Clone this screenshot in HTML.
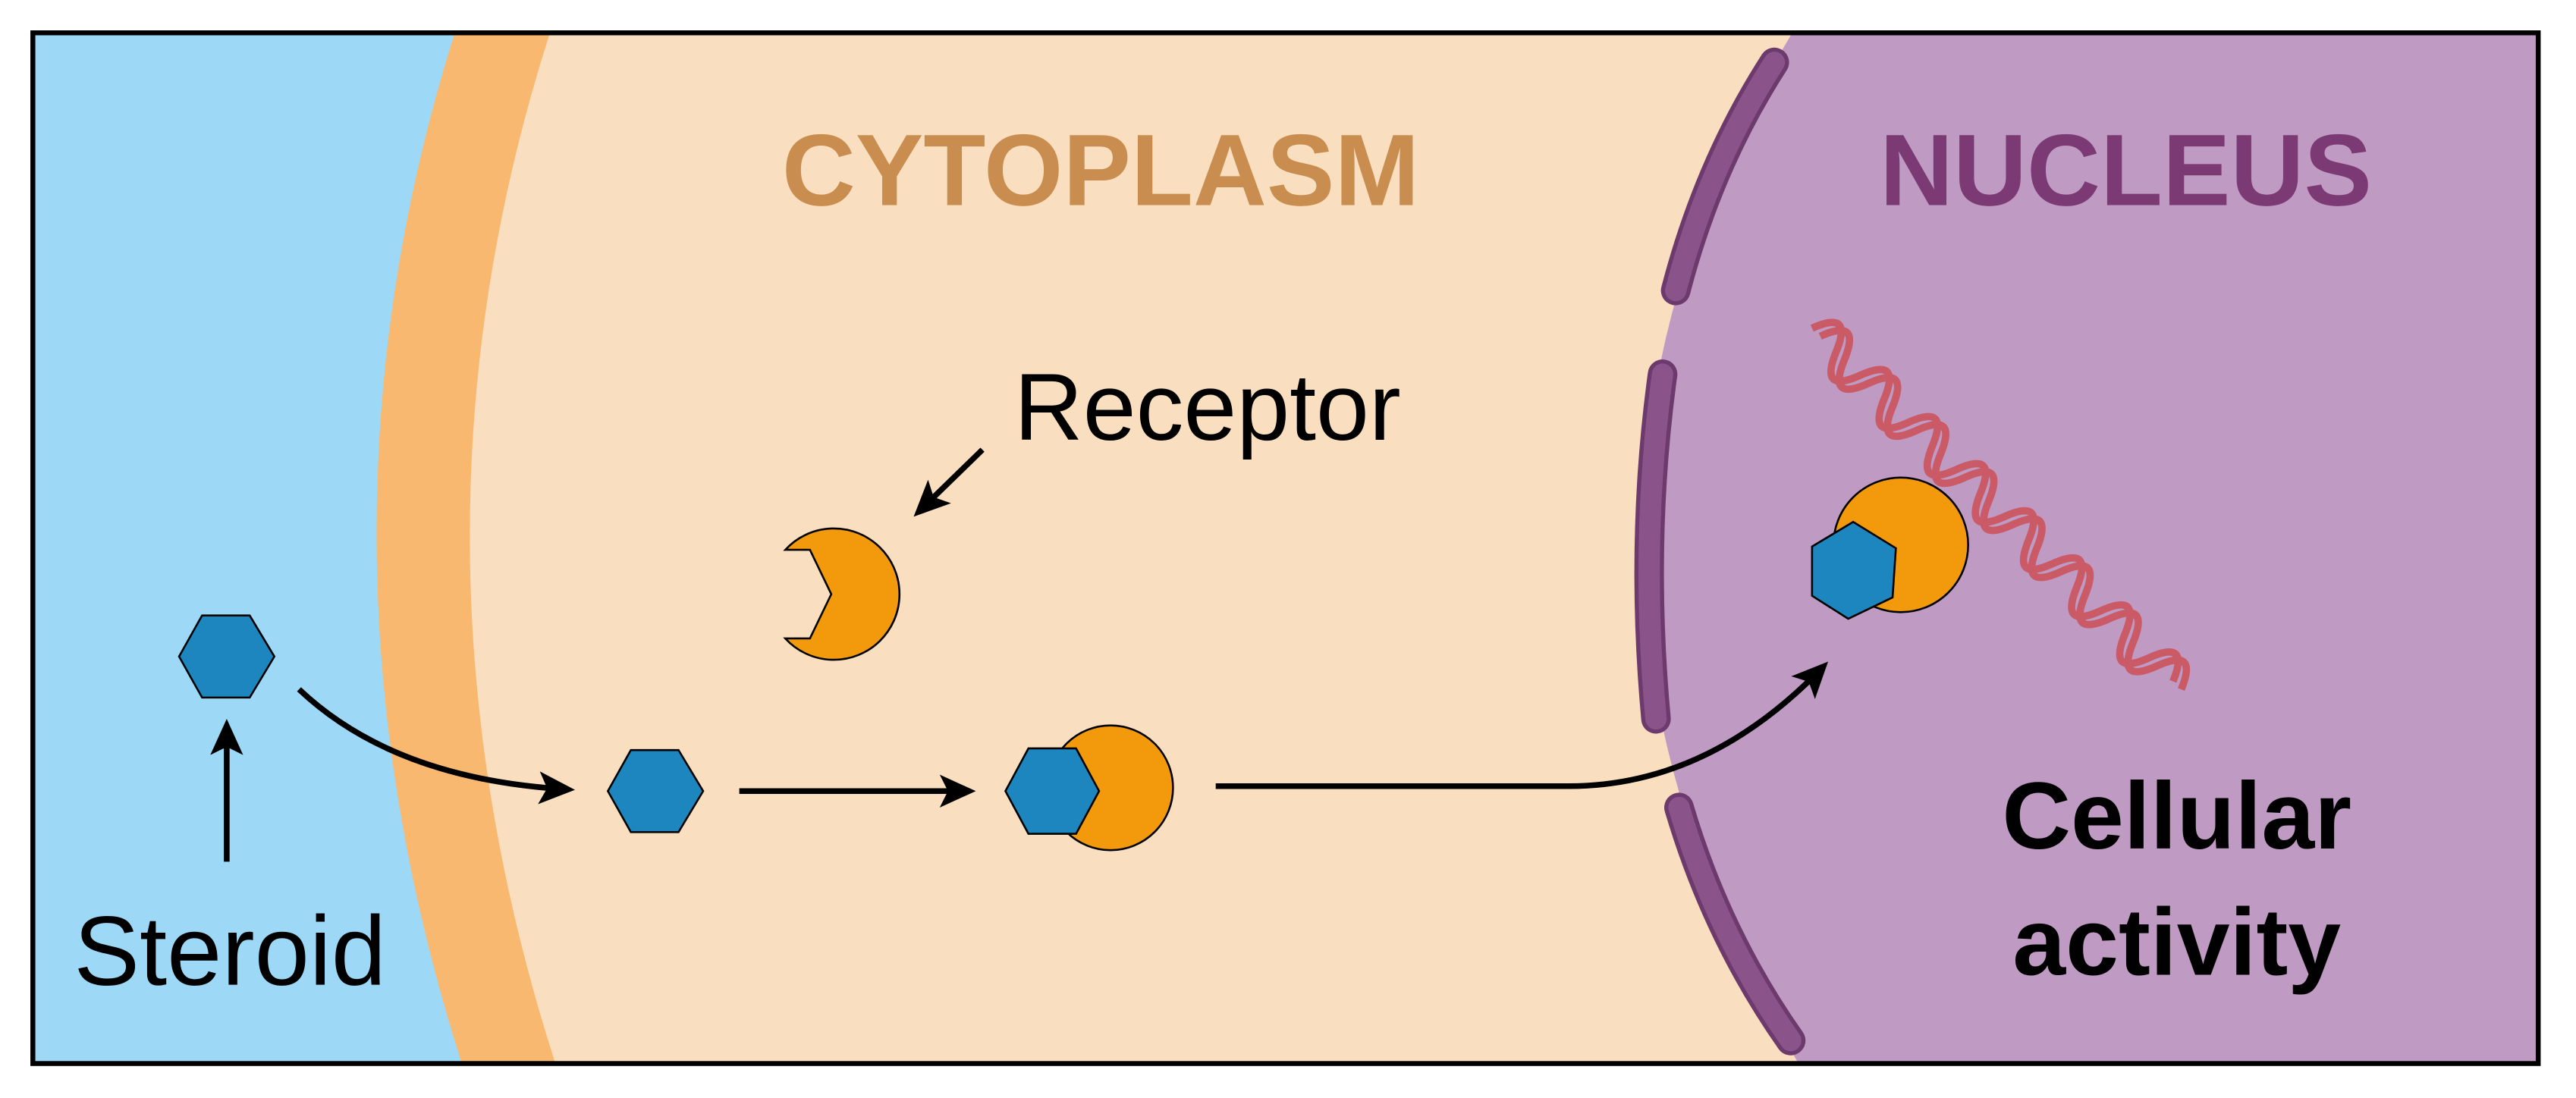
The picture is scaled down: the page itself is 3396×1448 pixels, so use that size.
<!DOCTYPE html>
<html><head><meta charset="utf-8"><style>html,body{margin:0;padding:0;background:#fff}svg{display:block}</style></head><body>
<svg width="3396" height="1448" viewBox="0 0 1568 669" preserveAspectRatio="none" xmlns="http://www.w3.org/2000/svg">
<defs>
<marker id="ah" markerWidth="22" markerHeight="20" refX="18" refY="10" orient="auto" markerUnits="userSpaceOnUse" viewBox="0 0 22 20"><path d="M0,0 L22,10 L0,20 L5,10 z" fill="#000"/></marker>
<clipPath id="fr"><rect x="20" y="20" width="1525" height="628"/></clipPath>
</defs>
<rect width="1568" height="669" fill="#fff"/>
<g clip-path="url(#fr)">
<rect x="20" y="20" width="1525" height="628" fill="#9dd9f6"/>
<path d="M280,10 Q176,330 285,660 L1600,660 L1600,10 Z" fill="#f9b870"/>
<path d="M338,10 Q232,330 342,660 L1600,660 L1600,10 Z" fill="#f9dfbf"/>
<path d="M1097,10 Q900,330 1102,660 L1600,660 L1600,10 Z" fill="#bf9ac2"/>
<g fill="none" stroke-linecap="round">
<path d="M1080,38 Q1040,100 1020,177" stroke="#6c3a6c" stroke-width="18"/>
<path d="M1080,38 Q1040,100 1020,177" stroke="#8a548a" stroke-width="13"/>
<path d="M1012,228 Q998,330 1008,438" stroke="#6c3a6c" stroke-width="18"/>
<path d="M1012,228 Q998,330 1008,438" stroke="#8a548a" stroke-width="13"/>
<path d="M1022,492 Q1045,570 1090,634" stroke="#6c3a6c" stroke-width="18"/>
<path d="M1022,492 Q1045,570 1090,634" stroke="#8a548a" stroke-width="13"/>
</g>
</g>
<rect x="20" y="20" width="1525" height="628" fill="none" stroke="#000" stroke-width="3"/>
<text x="670" y="125" font-family="Liberation Sans, sans-serif" font-weight="bold" font-size="62" fill="#c98d4f" text-anchor="middle">CYTOPLASM</text>
<text x="1294" y="125" font-family="Liberation Sans, sans-serif" font-weight="bold" font-size="62" fill="#7b3a73" text-anchor="middle">NUCLEUS</text>
<text x="735" y="268" font-family="Liberation Sans, sans-serif" font-size="58" fill="#000" text-anchor="middle">Receptor</text>
<text x="140" y="600" font-family="Liberation Sans, sans-serif" font-size="60" fill="#000" text-anchor="middle">Steroid</text>
<text x="1325" y="517" font-family="Liberation Sans, sans-serif" font-weight="bold" font-size="58" fill="#000" text-anchor="middle">Cellular</text>
<text x="1325" y="594" font-family="Liberation Sans, sans-serif" font-weight="bold" font-size="58" fill="#000" text-anchor="middle">activity</text>
<!-- DNA -->
<g transform="translate(1103,200) rotate(44.4)" fill="none" stroke="#c95a66" stroke-width="4.5" stroke-linecap="butt">
<path d="M0,0 q10,-26 20.5,0 t20.5,0 t20.5,0 t20.5,0 t20.5,0 t20.5,0 t20.5,0 t20.5,0 t20.5,0 t20.5,0 t20.5,0 t20.5,0 t20.5,0 t20.5,0 t20.5,0"/>
<path d="M7,0 q10,-26 20.5,0 t20.5,0 t20.5,0 t20.5,0 t20.5,0 t20.5,0 t20.5,0 t20.5,0 t20.5,0 t20.5,0 t20.5,0 t20.5,0 t20.5,0 t20.5,0 t20.5,0"/>
</g>
<!-- receptor alone -->
<path d="M478,335 A40,40 0 1 1 478,389 L493,389 L506,362 L493,335 Z" fill="#f39a0c" stroke="#000" stroke-width="1.2"/>
<!-- complex 1 -->
<circle cx="676" cy="480" r="38" fill="#f39a0c" stroke="#000" stroke-width="1.2"/>
<polygon points="612,482 626,456 655,456 669,482 655,508 626,508" fill="#1e86be" stroke="#000" stroke-width="1.2"/>
<!-- nucleus complex -->
<circle cx="1157" cy="332" r="41" fill="#f39a0c" stroke="#000" stroke-width="1.2"/>
<polygon points="1128,318 1154,334 1152,364 1125,377 1103,363 1103,333" fill="#1e86be" stroke="#000" stroke-width="1.2"/>
<!-- hexagons -->
<polygon points="109,400 123,375 152,375 167,400 152,425 123,425" fill="#1e86be" stroke="#000" stroke-width="1.2"/>
<polygon points="370,482 384,457 413,457 428,482 413,507 384,507" fill="#1e86be" stroke="#000" stroke-width="1.2"/>
<!-- arrows -->
<g fill="none" stroke="#000" stroke-width="3.5">
<line x1="138" y1="525" x2="138" y2="442" marker-end="url(#ah)"/>
<path d="M182,420 Q240,475 346,481" marker-end="url(#ah)"/>
<line x1="450" y1="482" x2="590" y2="482" marker-end="url(#ah)"/>
<path d="M740,479 L955,479 Q1040,479 1110,406" marker-end="url(#ah)"/>
<line x1="598" y1="274" x2="559" y2="312" marker-end="url(#ah)"/>
</g>
</svg>
</body></html>
